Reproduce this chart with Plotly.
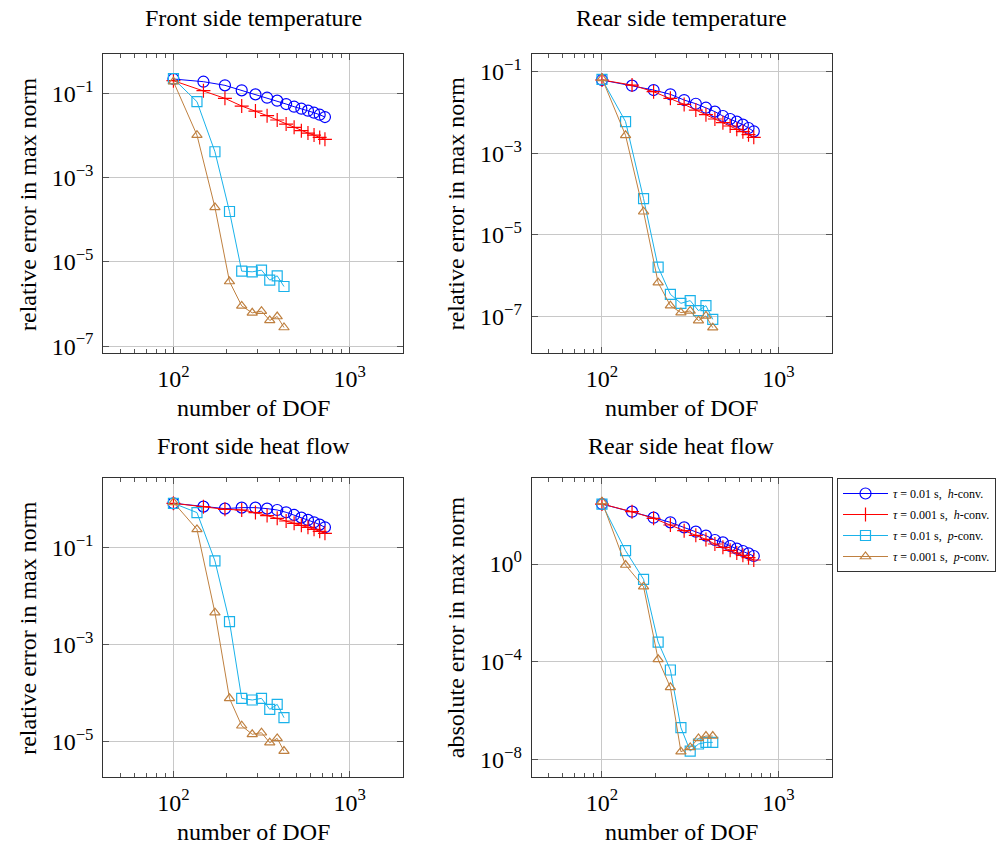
import plotly.graph_objects as go

# ---------------- data ----------------
dof_h = [100, 148, 196, 244, 292, 340, 388, 436, 484, 532, 580, 628, 676, 724]
dof_p = [100, 136, 172, 208, 244, 280, 316, 352, 388, 424]

# Front side temperature
ft_h01 = [0.219, 0.189, 0.155, 0.118, 0.0947, 0.0789, 0.067, 0.0558, 0.0482, 0.0432, 0.0388, 0.0347, 0.0311, 0.0274]
ft_h001 = [0.20, 0.116, 0.076, 0.050, 0.038, 0.0295, 0.0233, 0.0187, 0.0156, 0.013, 0.0114, 0.0102, 0.009, 0.0081]
ft_p01 = [0.223, 0.0634, 0.00411, 1.57e-4, 6.03e-6, 5.8e-6, 6.37e-6, 3.68e-6, 4.67e-6, 2.6e-6]
ft_p001 = [0.19, 0.0102, 1.96e-4, 3.42e-6, 9.03e-7, 6.17e-7, 6.76e-7, 4.07e-7, 5.05e-7, 2.77e-7]

# Rear side temperature
rt_h01 = [0.0625, 0.0454, 0.0355, 0.0279, 0.0202, 0.0164, 0.0131, 0.0105, 0.0082, 0.00693, 0.00597, 0.00504, 0.00417, 0.00346]
rt_h001 = [0.0625, 0.047, 0.0323, 0.0222, 0.0158, 0.0115, 0.00885, 0.00693, 0.00564, 0.00467, 0.00387, 0.0034, 0.00287, 0.00247]
rt_p01 = [0.065, 0.00597, 7.76e-5, 1.64e-6, 3.52e-7, 2.12e-7, 2.47e-7, 1.4e-7, 1.86e-7, 8.6e-8]
rt_p001 = [0.0687, 0.00276, 3.71e-5, 6.8e-7, 1.86e-7, 1.25e-7, 1.38e-7, 7.98e-8, 1.04e-7, 5.38e-8]

# Front side heat flow
fh_h01 = [0.805, 0.687, 0.625, 0.655, 0.655, 0.625, 0.586, 0.525, 0.463, 0.408, 0.366, 0.327, 0.293, 0.258]
fh_h001 = [0.805, 0.687, 0.605, 0.586, 0.518, 0.449, 0.395, 0.348, 0.312, 0.284, 0.258, 0.235, 0.213, 0.194]
fh_p01 = [0.805, 0.518, 0.0524, 0.00295, 7.8e-5, 7.21e-5, 7.8e-5, 4.63e-5, 5.87e-5, 3.12e-5]
fh_p001 = [0.843, 0.234, 0.00452, 7.8e-5, 2.13e-5, 1.42e-5, 1.53e-5, 9.53e-6, 1.17e-5, 6.43e-6]

# Rear side heat flow
rh_h01 = [286, 139, 79, 50.9, 31.7, 21.1, 14.5, 9.6, 7.7, 5.46, 4.25, 3.41, 2.73, 2.13]
rh_h001 = [286, 139, 74.1, 39.5, 23.2, 14.9, 10.2, 6.59, 4.82, 3.63, 2.82, 2.26, 1.82, 1.46]
rh_p01 = [286, 3.52, 0.236, 6.38e-4, 4.56e-5, 1.98e-7, 2.19e-8, 4.25e-8, 4.97e-8, 4.97e-8]
rh_p001 = [357, 0.91, 0.118, 1.25e-4, 8.89e-6, 2.06e-8, 3.1e-8, 7.24e-8, 9.04e-8, 9.04e-8]

titles = ["Front side temperature", "Rear side temperature", "Front side heat flow", "Rear side heat flow"]
ylabels = ["relative error in max norm", "relative error in max norm",
           "relative error in max norm", "absolute error in max norm"]
xlabel = "number of DOF"

x_tickvals = [100, 1000]
x_ticktext = ["10<sup>2</sup>", "10<sup>3</sup>"]
x_minor = [50, 60, 70, 80, 90, 200, 300, 400, 500, 600, 700, 800, 900]

y_ticks = [
    ([1e-1, 1e-3, 1e-5, 1e-7], ["10<sup>−1</sup>", "10<sup>−3</sup>", "10<sup>−5</sup>", "10<sup>−7</sup>"]),
    ([1e-1, 1e-3, 1e-5, 1e-7], ["10<sup>−1</sup>", "10<sup>−3</sup>", "10<sup>−5</sup>", "10<sup>−7</sup>"]),
    ([1e-1, 1e-3, 1e-5], ["10<sup>−1</sup>", "10<sup>−3</sup>", "10<sup>−5</sup>"]),
    ([1e0, 1e-4, 1e-8], ["10<sup>0</sup>", "10<sup>−4</sup>", "10<sup>−8</sup>"]),
]
y_ranges = [[-7.17, -0.066], [-7.898, -0.567], [-5.72, 0.42], [-8.71, 3.51]]
x_range = [1.602, 3.301]

series_names = ["<i>τ</i> = 0.01 s,  <i>h</i>-conv.", "<i>τ</i> = 0.001 s,  <i>h</i>-conv.",
                "<i>τ</i> = 0.01 s,  <i>p</i>-conv.", "<i>τ</i> = 0.001 s,  <i>p</i>-conv."]
colors = ["#0000ff", "#ff0000", "#1ab2ea", "#bf8040"]
symbols = ["circle-open", "cross-thin-open", "square-open", "triangle-up-open"]
sizes = [11, 10, 10, 9]

panels = [
    (ft_h01, ft_h001, ft_p01, ft_p001),
    (rt_h01, rt_h001, rt_p01, rt_p001),
    (fh_h01, fh_h001, fh_p01, fh_p001),
    (rh_h01, rh_h001, rh_p01, rh_p001),
]

W, H = 1000, 846
# pixel boxes (left, right, top, bottom)
boxes = [
    (103.3, 402.7, 54.0, 353.3),
    (531.7, 831.7, 54.0, 353.3),
    (103.3, 402.7, 478.3, 776.7),
    (531.7, 831.7, 478.3, 776.7),
]

fig = go.Figure()
FONT = "Liberation Serif, Times New Roman, serif"

for i, (vals, box) in enumerate(zip(panels, boxes)):
    xa = "x" if i == 0 else f"x{i+1}"
    ya = "y" if i == 0 else f"y{i+1}"
    for j, yv in enumerate(vals):
        xv = dof_h if j < 2 else dof_p
        fig.add_trace(go.Scatter(
            x=xv, y=yv, xaxis=xa, yaxis=ya, mode="lines+markers",
            name=series_names[j], showlegend=(i == 0), legendgroup=f"g{j}",
            line=dict(color=colors[j], width=1),
            marker=dict(symbol=symbols[j], size=sizes[j], color=colors[j],
                        line=dict(color=colors[j], width=1.2)),
        ))
    l, r, t, b = box
    xkey = "xaxis" if i == 0 else f"xaxis{i+1}"
    ykey = "yaxis" if i == 0 else f"yaxis{i+1}"
    common = dict(showline=True, linecolor="#333333", linewidth=1, mirror="ticks",
                  ticks="inside", tickcolor="#555555", ticklen=6, tickwidth=1,
                  showgrid=True, gridcolor="#c8c8c8", gridwidth=1, zeroline=False,
                  automargin=False,
                  tickfont=dict(family=FONT, size=24, color="black"))
    fig.layout[xkey] = dict(
        type="log", range=x_range, domain=[l / W, r / W], anchor=ya,
        tickmode="array", tickvals=x_tickvals, ticktext=x_ticktext,
        minor=dict(tickmode="array", tickvals=x_minor, ticks="inside", ticklen=4,
                   tickcolor="#555555", showgrid=False),
        ticklabelstandoff=4,
        **common)
    tv, tt = y_ticks[i]
    fig.layout[ykey] = dict(
        type="log", range=y_ranges[i], domain=[1 - b / H, 1 - t / H], anchor=xa,
        tickmode="array", tickvals=tv, ticktext=tt, ticklabelstandoff=4,
        **common)
    cx = (l + r) / 2
    cy = (t + b) / 2
    fig.add_annotation(text=titles[i], x=cx / W, y=1 - 18 / H if i < 2 else 1 - 446 / H,
                       xref="paper", yref="paper", showarrow=False,
                       xanchor="center", yanchor="middle",
                       font=dict(family=FONT, size=24, color="black"))
    fig.add_annotation(text=xlabel, x=cx / W, y=1 - (b + 55) / H,
                       xref="paper", yref="paper", showarrow=False,
                       xanchor="center", yanchor="middle",
                       font=dict(family=FONT, size=24, color="black"))
    fig.add_annotation(text=ylabels[i], x=(l - 76) / W, y=1 - cy / H,
                       xref="paper", yref="paper", showarrow=False, textangle=-90,
                       xanchor="center", yanchor="middle",
                       font=dict(family=FONT, size=24, color="black"))

fig.update_layout(
    width=W, height=H, margin=dict(l=0, r=0, t=0, b=0, autoexpand=False),
    paper_bgcolor="white", plot_bgcolor="white",
    showlegend=True,
    legend=dict(x=837 / W, y=1 - 478 / H, xanchor="left", yanchor="top",
                bgcolor="white", bordercolor="#333333", borderwidth=1,
                font=dict(family=FONT, size=12, color="black"),
                itemwidth=45, tracegroupgap=2),
)

fig.write_html("out.html")
